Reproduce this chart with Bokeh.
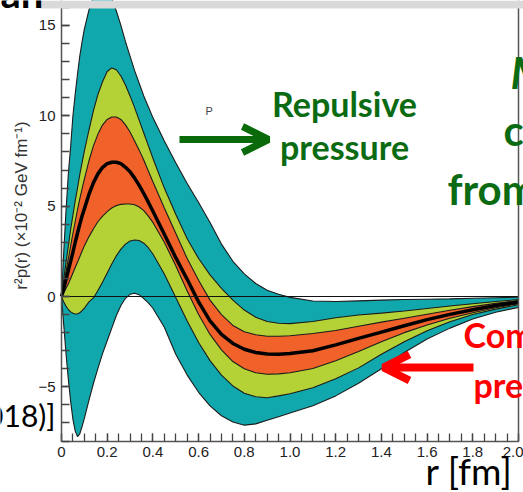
import math
from bokeh.plotting import figure
from bokeh.models import (Label, Arrow, OpenHead, SingleIntervalTicker, FixedTicker,
                          LinearAxis, BoxAnnotation, Range1d, PrintfTickFormatter)
from bokeh.embed import file_html
from bokeh.resources import INLINE

# ---- data ----
r = [0, .01, .02, .03, .04, .05, .06, .07, .08, .09, .10, .12, .14, .16, .18, .20,
     .22, .24, .26, .28, .30, .32, .34, .36, .38, .40, .45, .50, .55, .60, .65, .70,
     .75, .80, .85, .90, .95, 1.0, 1.1, 1.2, 1.3, 1.4, 1.5, 1.6, 1.7, 1.8, 1.9, 2.0]

central = [0, 0.45, 0.95, 1.45, 1.95, 2.45, 3.0, 3.5, 4.0, 4.45, 4.85, 5.65, 6.3, 6.8,
           7.15, 7.35, 7.43, 7.43, 7.35, 7.15, 6.9, 6.55, 6.15, 5.7, 5.22, 4.72, 3.45,
           2.15, 0.95, -0.3, -1.35, -2.1, -2.6, -2.92, -3.1, -3.18, -3.2, -3.15, -3.0,
           -2.68, -2.32, -1.97, -1.62, -1.28, -0.99, -0.73, -0.5, -0.31]

orange_hi = [0, 0.7, 1.4, 2.1, 2.8, 3.5, 4.15, 4.8, 5.4, 5.95, 6.5, 7.5, 8.35, 9.0, 9.5,
             9.8, 9.93, 9.93, 9.8, 9.5, 9.1, 8.6, 8.1, 7.55, 6.95, 6.35, 4.9, 3.5, 2.1,
             0.9, -0.2, -1.0, -1.6, -1.95, -2.12, -2.2, -2.2, -2.17, -2.05, -1.88, -1.65,
             -1.42, -1.2, -0.98, -0.76, -0.56, -0.38, -0.22]

orange_lo = [0, 0.2, 0.45, 0.7, 1.0, 1.3, 1.6, 1.9, 2.2, 2.5, 2.8, 3.3, 3.75, 4.15, 4.45,
             4.7, 4.9, 5.03, 5.1, 5.12, 5.12, 5.08, 4.95, 4.75, 4.45, 4.1, 3.0, 1.7, 0.3,
             -1.0, -2.1, -2.95, -3.6, -4.0, -4.22, -4.3, -4.28, -4.22, -3.98, -3.55,
             -3.05, -2.5, -2.0, -1.58, -1.2, -0.9, -0.62, -0.4]

green_hi = [0, 1.0, 1.9, 2.8, 3.7, 4.5, 5.3, 6.0, 6.75, 7.4, 8.05, 9.2, 10.3, 11.2, 11.9,
            12.45, 12.65, 12.55, 12.2, 11.7, 11.1, 10.45, 9.75, 9.05, 8.35, 7.65, 6.0,
            4.55, 3.2, 2.1, 1.2, 0.45, -0.2, -0.75, -1.15, -1.38, -1.48, -1.5, -1.38,
            -1.18, -1.02, -0.92, -0.8, -0.66, -0.53, -0.4, -0.28, -0.17]

green_lo = [0, -0.3, -0.55, -0.72, -0.85, -0.93, -0.97, -0.96, -0.9, -0.78, -0.65, -0.3,
            -0.08, 0.35, 0.8, 1.3, 1.8, 2.25, 2.62, 2.9, 3.07, 3.13, 3.1, 2.95, 2.7, 2.35,
            1.25, -0.05, -1.35, -2.55, -3.55, -4.35, -4.95, -5.35, -5.55, -5.6, -5.5,
            -5.38, -5.05, -4.55, -3.95, -3.2, -2.5, -1.9, -1.4, -1.0, -0.7, -0.46]

teal_hi = [0, 2.5, 4.8, 6.8, 8.3, 10.0, 11.2, 12.3, 13.3, 14.1, 14.8, 15.85, 16.6, 17.05,
           17.2, 17.0, 16.5, 15.8, 15.0, 14.1, 13.3, 12.5, 11.8, 11.1, 10.5, 9.9, 8.6,
           7.4, 6.25, 5.2, 4.1, 2.9, 1.95, 1.25, 0.72, 0.35, 0.12, -0.05, -0.25, -0.28,
           -0.24, -0.2, -0.17, -0.15, -0.13, -0.1, -0.07, -0.04]

teal_lo = [0, -1.6, -3.2, -4.6, -5.8, -6.8, -7.45, -7.75, -7.6, -7.2, -6.75, -5.75, -4.8,
           -3.95, -3.15, -2.45, -1.75, -1.05, -0.5, -0.1, 0.12, 0.18, 0.1, -0.12, -0.35,
           -0.65, -1.7, -3.2, -4.35, -5.3, -6.05, -6.6, -6.95, -7.12, -7.05, -6.85,
           -6.65, -6.45, -6.05, -5.5, -4.8, -4.0, -3.1, -2.35, -1.75, -1.25, -0.87, -0.6]

y_min, y_max = -8.0, 16.4          # axis extent of the original plot
x_tick_overrides = {0: "0"}
y_tick_overrides = {-5: "\u22125"}

# ---- styling constants ----
TEAL = "#10a7ad"
LIME = "#b4d236"
ORANGE = "#f1612a"
EDGE = "#1c1c1c"
GREEN_TXT = "#0b6b12"
RED = "#ff0000"

W, H = 523, 492
X0PX, XSCALE = 61.0, 228.5       # page px of r=0, px per fm
Y0PX, YSCALE = 296.0, 18.07      # page px of value 0, px per unit


def dx(px):
    return (px - X0PX) / XSCALE


def dy(py):
    return (Y0PX - py) / YSCALE


p = figure(width=W, height=H,
           x_range=Range1d(dx(0), dx(W)), y_range=Range1d(dy(H), dy(0)),
           output_backend="svg", toolbar_location=None,
           min_border=0, min_border_left=0, min_border_right=0,
           min_border_top=0, min_border_bottom=0)
p.outline_line_color = None
p.xgrid.visible = False
p.ygrid.visible = False
p.background_fill_color = "white"
p.border_fill_color = "white"

p.varea(x=r, y1=teal_lo, y2=teal_hi, fill_color=TEAL)
p.varea(x=r, y1=green_lo, y2=green_hi, fill_color=LIME)
p.varea(x=r, y1=orange_lo, y2=orange_hi, fill_color=ORANGE)
for ser in (teal_lo, teal_hi, green_lo, green_hi, orange_lo, orange_hi):
    p.line(r, ser, line_color=EDGE, line_width=1.1)
p.line(r, central, line_color="black", line_width=3.5)
p.segment(x0=r[0], x1=r[-1], y0=0, y1=0, line_color="#111", line_width=1.2)

# axes placed at fixed positions inside the canvas
xa = p.xaxis[0]
ya = p.yaxis[0]
xa.fixed_location = y_min
ya.fixed_location = r[0]
xa.bounds = (r[0], r[-1])
ya.bounds = (y_min, y_max)
xa.ticker = SingleIntervalTicker(interval=0.2, num_minor_ticks=4)
ya.ticker = SingleIntervalTicker(interval=5, num_minor_ticks=5)
xa.formatter = PrintfTickFormatter(format="%.1f")
xa.major_label_overrides = x_tick_overrides
ya.major_label_overrides = y_tick_overrides

ra = LinearAxis(fixed_location=r[-1], bounds=(y_min, y_max), ticker=FixedTicker(ticks=[]))
p.add_layout(ra, "right")

for ax in (xa, ya, ra):
    ax.axis_line_color = "#555"
    ax.axis_line_width = 1.5
    ax.major_tick_in = 8
    ax.major_tick_out = 0
    ax.minor_tick_in = 8
    ax.minor_tick_out = 0
    ax.major_tick_line_color = "#444"
    ax.minor_tick_line_color = "#444"
    ax.major_tick_line_width = 1.3
    ax.minor_tick_line_width = 1.3
    ax.major_label_text_font = "Liberation Sans"
    ax.major_label_text_font_size = "15px"
    ax.major_label_text_color = "#222"
xa.major_label_standoff = 6
ya.major_label_standoff = 6

# slide decorations: grey bar at top, title remnant
p.add_layout(BoxAnnotation(left=dx(39), bottom=dy(8), fill_color="#d9d9d9",
                           fill_alpha=1.0, line_color=None))


def add_text(px, py_bottom, text, size, color, style="bold", align="left", font="Lato"):
    p.add_layout(Label(x=dx(px), y=dy(py_bottom), text=text, text_align=align,
                       text_baseline="bottom", text_font=font,
                       text_font_style=style, text_font_size=size, text_color=color))


add_text(0, 16, "an", "40px", "black")

# y axis title
p.add_layout(Label(x=dx(21), y=dy(205), angle=math.pi / 2,
                   text="r\u00b2p(r) (\u00d710\u207b\u00b2 GeV fm\u207b\u00b9)",
                   text_align="center", text_baseline="middle",
                   text_font="Liberation Sans", text_font_size="17px", text_color="#333"))

add_text(344, 123, "Repulsive", "34px", GREEN_TXT, align="center")
add_text(344, 166, "pressure", "34px", GREEN_TXT, align="center")

p.add_layout(Arrow(x_start=dx(179), y_start=dy(139), x_end=dx(268), y_end=dy(139),
                   line_color="#0a6a0a", line_width=7,
                   end=OpenHead(size=26, line_color="#0a6a0a", line_width=7)))

p.add_layout(Arrow(x_start=dx(473), y_start=dy(367), x_end=dx(383), y_end=dy(367),
                   line_color=RED, line_width=8,
                   end=OpenHead(size=26, line_color=RED, line_width=8)))

add_text(463, 354, "Com", "34px", RED)
add_text(473, 404, "pre", "34px", RED)

add_text(510, 97, "M", "44px", GREEN_TXT, style="bold italic")
add_text(503, 154, "c", "42px", GREEN_TXT)
add_text(447, 213, "from", "42px", GREEN_TXT)

add_text(425, 492, "r [fm]", "37px", "black", style="normal")
add_text(55, 432, "018)]", "30px", "black", style="normal", align="right")
add_text(205, 116, "P", "11px", "#444", style="normal", font="Liberation Sans")

open("out.html", "w").write(file_html(p, INLINE))
